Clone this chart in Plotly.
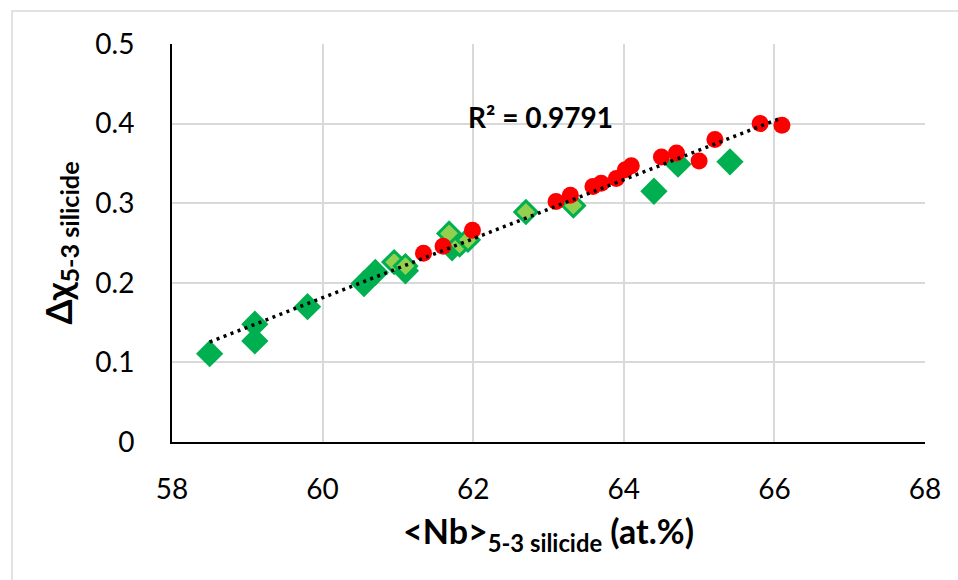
import numpy as np
import plotly.graph_objects as go

# Dark green diamonds
dark_x = [58.5, 59.1, 59.1, 59.8, 60.55, 60.7, 61.1, 61.72, 64.4, 64.72, 65.41]
dark_y = [0.111, 0.148, 0.127, 0.170, 0.199, 0.213, 0.215, 0.244, 0.315, 0.349, 0.352]

# Light green diamonds (green border)
light_x = [60.95, 61.1, 61.68, 61.82, 61.93, 62.7, 63.33]
light_y = [0.226, 0.221, 0.262, 0.248, 0.254, 0.289, 0.297]

# Red circles
red_x = [61.34, 61.6, 61.99, 63.1, 63.29, 63.59, 63.7, 63.9, 64.02, 64.1,
         64.5, 64.7, 65.0, 65.21, 65.81, 66.1]
red_y = [0.237, 0.246, 0.266, 0.302, 0.310, 0.321, 0.325, 0.331, 0.342, 0.347,
         0.358, 0.363, 0.353, 0.380, 0.400, 0.398]

x_ticks = [58, 60, 62, 64, 66, 68]
y_ticks = [0, 0.1, 0.2, 0.3, 0.4, 0.5]
y_tick_text = ["0", "0.1", "0.2", "0.3", "0.4", "0.5"]
r2_text = "R² = 0.9791"

all_x = np.array(dark_x + light_x + red_x)
all_y = np.array(dark_y + light_y + red_y)
slope, intercept = np.polyfit(all_x, all_y, 1)
tx = np.array([all_x.min(), all_x.max()])
ty = slope * tx + intercept

DARK = "#00B050"
LIGHT = "#92D050"
RED = "#FF0000"
FONT = "Lato"

fig = go.Figure()
fig.add_trace(go.Scatter(x=dark_x, y=dark_y, mode="markers",
                         marker=dict(symbol="diamond", size=21, color=DARK,
                                     line=dict(width=0)), showlegend=False))
fig.add_trace(go.Scatter(x=light_x, y=light_y, mode="markers",
                         marker=dict(symbol="diamond", size=17, color=LIGHT,
                                     line=dict(width=3, color=DARK)), showlegend=False))
fig.add_trace(go.Scatter(x=red_x, y=red_y, mode="markers",
                         marker=dict(symbol="circle", size=17, color=RED,
                                     line=dict(width=0)), showlegend=False))
fig.add_trace(go.Scatter(x=tx, y=ty, mode="lines",
                         line=dict(color="black", width=3.5, dash="3px,4.5px"),
                         showlegend=False))

fig.add_annotation(x=62.9, y=0.408, text="<b>" + r2_text + "</b>", showarrow=False,
                   xanchor="center", yanchor="middle",
                   font=dict(family=FONT, size=28, color="black"))

W, H = 958, 580
L, R, T, B = 172, 33, 44, 138
pw, ph = W - L - R, H - T - B

def px2paper_x(p):
    return (p - L) / pw

def px2paper_y(p):
    return (H - B - p) / ph

fig.add_shape(type="rect", xref="paper", yref="paper",
              x0=px2paper_x(12), x1=px2paper_x(960), y0=px2paper_y(585), y1=px2paper_y(11),
              line=dict(color="#d9d9d9", width=1.5), fillcolor="rgba(0,0,0,0)", layer="below")

fig.update_layout(
    width=W, height=H,
    margin=dict(l=L, r=R, t=T, b=B, autoexpand=False),
    paper_bgcolor="white", plot_bgcolor="white",
    font=dict(family=FONT, color="black"),
    xaxis=dict(range=[58, 68], tickvals=x_ticks, showgrid=True, gridcolor="#d9d9d9",
               gridwidth=1.5, zeroline=False, showline=True, linecolor="black", linewidth=2,
               ticks="", tickfont=dict(size=28, family=FONT), ticklabelstandoff=21,
               title=dict(text="<b><Nb><sub>5-3 silicide</sub> (at.%)</b>",
                          font=dict(size=34, family=FONT), standoff=17)),
    yaxis=dict(range=[0, 0.5], tickvals=y_ticks, ticktext=y_tick_text,
               showgrid=True, gridcolor="#d9d9d9",
               gridwidth=1.5, zeroline=False, showline=True, linecolor="black", linewidth=2,
               ticks="", tickfont=dict(size=28, family=FONT), ticklabelstandoff=30,
               title=dict(text="<b>Δχ<sub>5-3 silicide</sub></b>",
                          font=dict(size=36, family=FONT), standoff=12)),
)

fig.write_html("out.html")
